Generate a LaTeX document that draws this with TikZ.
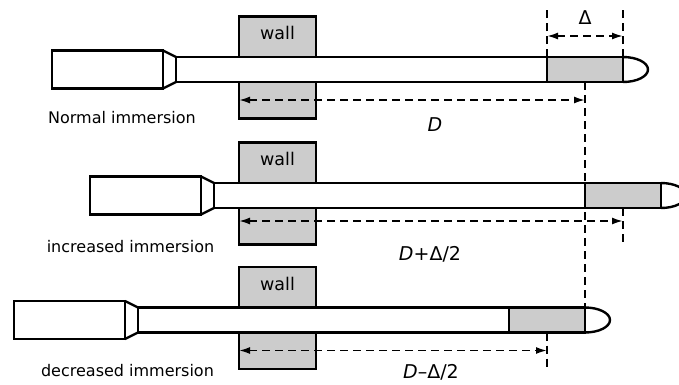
\documentclass[tikz,border=0pt]{standalone}
\usepackage{fontspec}
\setmainfont{DejaVu Sans}
\usetikzlibrary{arrows.meta, positioning, calc}

\begin{document}
\begin{tikzpicture}[
    x=1pt, y=-1pt,
    font=\fontsize{16}{18}\selectfont,
    every node/.style={inner sep=0pt, outer sep=0pt},
    part/.style={rectangle, draw, line width=2.4pt, fill=white},
    head/.style={part, minimum width=111pt, minimum height=38pt},
    stem/.style={part, minimum width=371pt, minimum height=25pt},
    sensor/.style={part, fill=black!20, minimum width=76pt, minimum height=25pt},
    wallbox/.style={rectangle, draw, line width=2.4pt, fill=black!20, minimum width=77pt, minimum height=102pt},
    walltext/.style={font=\fontsize{17.5}{19}\selectfont},
    dimlabel/.style={font=\fontsize{19}{21}\selectfont},
    dim/.style={line width=1.8pt, dash pattern=on 8pt off 5pt},
    dimarrow/.style={dim, {Latex[length=11pt,width=7pt]}-{Latex[length=11pt,width=7pt]}}
]
\useasboundingbox (0,0) rectangle (679,384);

% Walls
\node (wall1) [wallbox] at (277.5,67.5) {};
\node (wall2) [wallbox] at (277.5,193.5) {};
\node (wall3) [wallbox] at (277.5,318) {};
\node (wt1) [walltext, below=10pt of wall1.north] {wall};
\node (wt2) [walltext, below=10pt of wall2.north] {wall};
\node (wt3) [walltext, below=10pt of wall3.north] {wall};

% Normal immersion
\node (head1) [head] at (107.5,69.5) {};
\node (stem1) [stem, right=13pt of head1] {};
\node (sens1) [sensor, right=0pt of stem1] {};
\draw[line width=2.4pt] (head1.north east) -- (stem1.north west) (head1.south east) -- (stem1.south west);
\draw[line width=2.4pt] (sens1.north east) arc[start angle=90, end angle=-90, x radius=25pt, y radius=12.5pt];

% Increased immersion
\node (head2) [head] at (145.5,195.5) {};
\node (stem2) [stem, right=13pt of head2] {};
\node (sens2) [sensor, right=0pt of stem2] {};
\draw[line width=2.4pt] (head2.north east) -- (stem2.north west) (head2.south east) -- (stem2.south west);
\draw[line width=2.4pt] (sens2.north east) arc[start angle=90, end angle=-90, x radius=25pt, y radius=12.5pt];

% Decreased immersion
\node (head3) [head] at (69.5,320) {};
\node (stem3) [stem, right=13pt of head3] {};
\node (sens3) [sensor, right=0pt of stem3] {};
\draw[line width=2.4pt] (head3.north east) -- (stem3.north west) (head3.south east) -- (stem3.south west);
\draw[line width=2.4pt] (sens3.north east) arc[start angle=90, end angle=-90, x radius=25pt, y radius=12.5pt];

% Delta
\draw[dim] (sens1.north west) -- ++(0,-47);
\draw[dim] (sens1.north east) -- ++(0,-47);
\draw[dimarrow] ($(sens1.north west)+(0,-21)$) -- ($(sens1.north east)+(0,-21)$);
\node (delta) [dimlabel] at (585,17.5) {Δ};

% Immersion depths
\draw[dim] (sens1.south) -- (sens3.north east);
\draw[dimarrow] ($(wall1.west |- sens1.south)+(0,18)$) -- ($(sens1.south)+(0,18)$);
\draw[dim] (sens2.south) -- ++(0,36);
\draw[dimarrow] ($(wall2.west |- sens2.south)+(0,13)$) -- ($(sens2.south)+(0,13)$);
\draw[dim] (sens3.south) -- ++(0,36);
\draw[dimarrow] ($(wall3.west |- sens3.south)+(0,18)$) -- ($(sens3.south)+(0,18)$);

\node (lbl1) [dimlabel] at (435,125) {\itshape D};
\node (lbl2) [dimlabel] at (430,254) {{\itshape D}+Δ/2};
\node (lbl3) [dimlabel] at (431,372) {{\itshape D}–Δ/2};

% Captions
\node (cap1) at (122,118) {Normal immersion};
\node (cap2) at (130.5,247) {increased immersion};
\node (cap3) at (127.5,371) {decreased immersion};

\end{tikzpicture}
\end{document}
